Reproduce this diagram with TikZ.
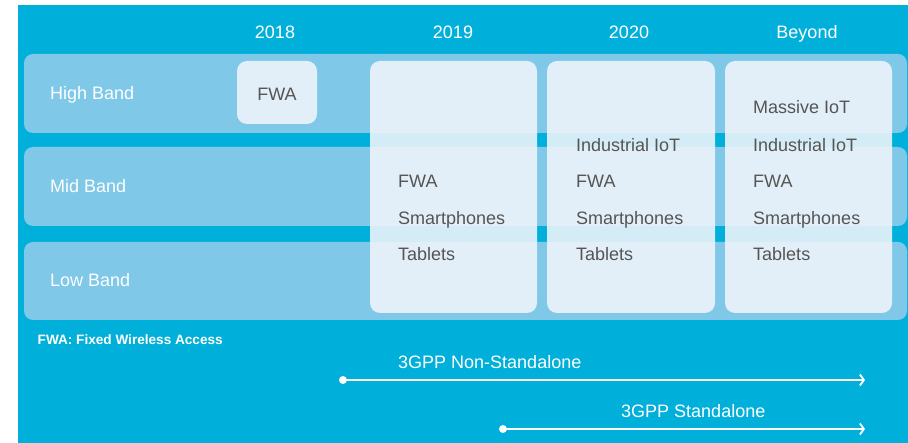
\documentclass[tikz,border=0pt]{standalone}
\usepackage{fontspec}
\setmainfont{Liberation Sans}
\usetikzlibrary{arrows.meta}
\definecolor{bgblue}{HTML}{00B0DA}
\definecolor{bandblue}{HTML}{7FC8E8}
\definecolor{boxfill}{HTML}{F1F5FB}
\definecolor{txtgray}{HTML}{555555}
\tikzset{
  band/.style={fill=bandblue, rounded corners=9pt},
  usebox/.style={fill=boxfill, fill opacity=0.88, rounded corners=10pt},
  yearlbl/.style={text=white, font=\fontsize{18}{20}\selectfont, anchor=base, inner sep=0pt},
  bandlbl/.style={text=white, font=\fontsize{18}{20}\selectfont, anchor=base west, inner sep=0pt},
  itemlbl/.style={text=txtgray, font=\fontsize{18}{20}\selectfont, anchor=base west, inner sep=0pt},
  notelbl/.style={text=white, font=\fontsize{13.6}{15}\bfseries\selectfont, anchor=base west, inner sep=0pt},
  startdot/.style={circle, fill=white, inner sep=0pt, minimum size=8pt},
  timeline/.style={white, line width=1.8pt, -{Straight Barb[length=4pt,width=11pt,line width=1.8pt]}},
}
\begin{document}
\begin{tikzpicture}[x=1pt,y=-1pt]
\useasboundingbox (0,0) rectangle (908,443);
\fill[white] (0,0) rectangle (908,443);
\fill[bgblue] (18,5) rectangle (908,443);
% bands
\fill[band] (24,54) rectangle (907,133);
\fill[band] (24,147) rectangle (907,226);
\fill[band] (24,242) rectangle (907,320);
% boxes
\fill[usebox] (237,61) rectangle (317,124);
\fill[usebox] (370,61) rectangle (537,313);
\fill[usebox] (547,61) rectangle (715,313);
\fill[usebox] (725,61) rectangle (892,313);
% years
\node[yearlbl] (y2018) at (275,38.5) {2018};
\node[yearlbl] (y2019) at (453,38.5) {2019};
\node[yearlbl] (y2020) at (629,38.5) {2020};
\node[yearlbl] (ybeyond) at (807,38.5) {Beyond};
% band labels
\node[bandlbl] (high) at (50,100) {High Band};
\node[bandlbl] (mid) at (50,193) {Mid Band};
\node[bandlbl] (low) at (50,287) {Low Band};
% 2018
\node[text=txtgray, font=\fontsize{18}{20}\selectfont, anchor=base, inner sep=0pt] (fwa18) at (277,100.5) {FWA};
% 2019
\node[itemlbl] (fwa19) at (398,188) {FWA};
\node[itemlbl] (sp19) at (398,225) {Smartphones};
\node[itemlbl] (tab19) at (398,260.5) {Tablets};
% 2020
\node[itemlbl] (iiot20) at (576,152) {Industrial IoT};
\node[itemlbl] (fwa20) at (576,188) {FWA};
\node[itemlbl] (sp20) at (576,225) {Smartphones};
\node[itemlbl] (tab20) at (576,260.5) {Tablets};
% beyond
\node[itemlbl] (miot) at (753,114) {Massive IoT};
\node[itemlbl] (iiotb) at (753,152) {Industrial IoT};
\node[itemlbl] (fwab) at (753,188) {FWA};
\node[itemlbl] (spb) at (753,225) {Smartphones};
\node[itemlbl] (tabb) at (753,260.5) {Tablets};
% note
\node[notelbl] (note) at (37.5,345) {FWA: Fixed Wireless Access};
% timelines
\node[bandlbl] (nsa) at (398,369) {3GPP Non-Standalone};
\node[startdot] (nsadot) at (343,380) {};
\coordinate (nsaend) at (865,380);
\draw[timeline] (nsadot.center) -- (nsaend);
\node[bandlbl] (sa) at (621,418) {3GPP Standalone};
\node[startdot] (sadot) at (503,429) {};
\coordinate (saend) at (865,429);
\draw[timeline] (sadot.center) -- (saend);
\end{tikzpicture}
\end{document}
